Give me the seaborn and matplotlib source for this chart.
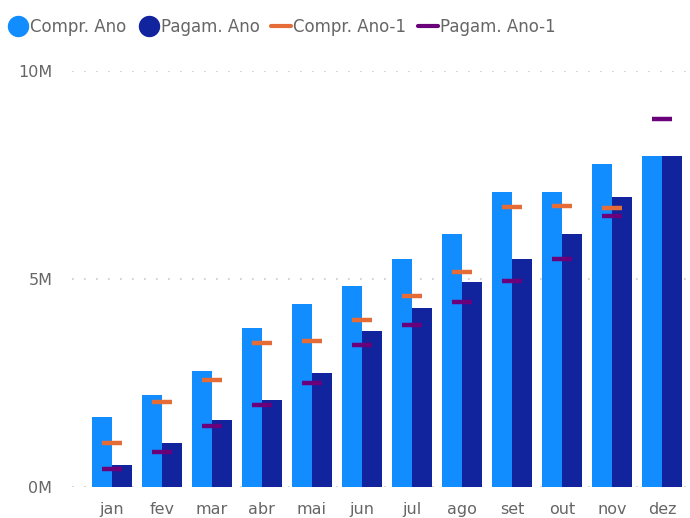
import numpy as np
import pandas as pd
import matplotlib
matplotlib.use("Agg")
import matplotlib.pyplot as plt
from matplotlib.lines import Line2D
import seaborn as sns

months = ["jan", "fev", "mar", "abr", "mai", "jun", "jul", "ago", "set", "out", "nov", "dez"]
compr_ano = [1.67, 2.20, 2.78, 3.83, 4.39, 4.84, 5.49, 6.07, 7.10, 7.10, 7.76, 7.96]
pagam_ano = [0.52, 1.05, 1.60, 2.08, 2.74, 3.75, 4.29, 4.92, 5.49, 6.07, 6.96, 7.96]
compr_ano_1 = [1.05, 2.04, 2.56, 3.47, 3.52, 4.02, 4.60, 5.17, 6.74, 6.75, 6.70, np.nan]
pagam_ano_1 = [0.44, 0.84, 1.47, 1.98, 2.50, 3.40, 3.89, 4.45, 4.96, 5.49, 6.51, 8.84]

c_light = "#118DFF"
c_dark = "#12239E"
c_orange = "#E66C37"
c_purple = "#6B007B"
txt = "#666666"

sns.set_style("white")
plt.rcParams["font.family"] = ["DejaVu Sans"]

df = pd.DataFrame({
    "mes": months * 2,
    "valor": np.array(compr_ano + pagam_ano) * 1e6,
    "serie": ["Compr. Ano"] * 12 + ["Pagam. Ano"] * 12,
})

fig = plt.figure(figsize=(6.9, 5.18), dpi=100)
ax = fig.add_axes([0.104, 0.06, 0.893, 0.803])

sns.barplot(data=df, x="mes", y="valor", hue="serie", order=months,
            palette=[c_light, c_dark], width=0.8, saturation=1,
            linewidth=0, legend=False, ax=ax)

# previous-year markers, one short dash per month
idx = np.arange(len(months))
ax.hlines(np.array(compr_ano_1) * 1e6, idx - 0.2, idx + 0.2, colors=c_orange, lw=3.2, zorder=5)
ax.hlines(np.array(pagam_ano_1) * 1e6, idx - 0.2, idx + 0.2, colors=c_purple, lw=3.2, zorder=5)

ax.set_ylim(0, 10e6)
ax.set_xlim(-0.8, 11.52)
ax.set_yticks([0, 5e6, 10e6])
ax.set_yticklabels(["0M", "5M", "10M"])
ax.yaxis.grid(True, linestyle=(0, (1, 6.2)), color="#c8c8c8", lw=1.2)
ax.set_axisbelow(True)
for s in ax.spines.values():
    s.set_visible(False)
ax.set_xlabel("")
ax.set_ylabel("")
ax.tick_params(axis="both", length=0, colors=txt, labelsize=11.5)
ax.tick_params(axis="y", pad=14)
ax.tick_params(axis="x", pad=11)

handles = [
    Line2D([], [], marker="o", ls="none", color=c_light, ms=14.4),
    Line2D([], [], marker="o", ls="none", color=c_dark, ms=14.4),
    Line2D([], [], color=c_orange, lw=3),
    Line2D([], [], color=c_purple, lw=3),
]
labels = ["Compr. Ano", "Pagam. Ano", "Compr. Ano-1", "Pagam. Ano-1"]
fig.legend(handles, labels, loc="upper left", bbox_to_anchor=(0.0, 0.982), ncol=4,
           frameon=False, fontsize=12, labelcolor=txt, handlelength=1.2,
           handletextpad=0.12, columnspacing=0.72, borderaxespad=0.3,
           borderpad=0.2)

fig.savefig("out.png", dpi=100)
